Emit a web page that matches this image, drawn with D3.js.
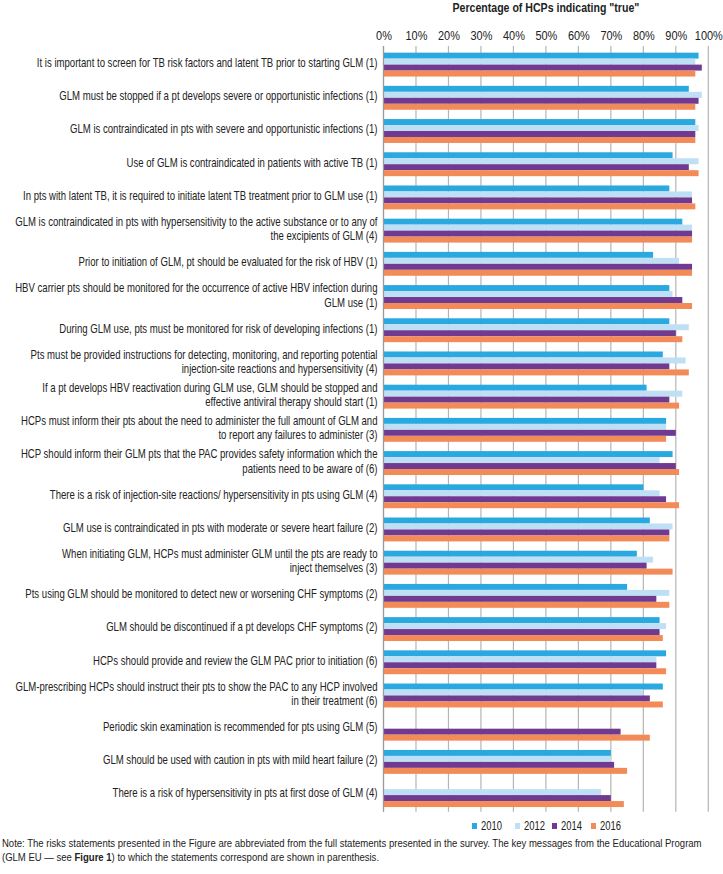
<!DOCTYPE html>
<html><head><meta charset="utf-8">
<script src="https://cdn.jsdelivr.net/npm/d3@7"></script>
<style>
body{margin:0;background:#fff;}
svg{display:block;}
text{font-family:"Liberation Sans",Arial,sans-serif;fill:#222;}
</style></head><body>
<svg id="c" width="723" height="874"></svg>
<script>
const categories = [
  ["It is important to screen for TB risk factors and latent TB prior to starting GLM (1)"],
  ["GLM must be stopped if a pt develops severe or opportunistic infections (1)"],
  ["GLM is contraindicated in pts with severe and opportunistic infections (1)"],
  ["Use of GLM is contraindicated in patients with active TB (1)"],
  ["In pts with latent TB, it is required to initiate latent TB treatment prior to GLM use (1)"],
  ["GLM is contraindicated in pts with hypersensitivity to the active substance or to any of","the excipients of GLM (4)"],
  ["Prior to initiation of GLM, pt should be evaluated for the risk of HBV (1)"],
  ["HBV carrier pts should be monitored for the occurrence of active HBV infection during","GLM use (1)"],
  ["During GLM use, pts must be monitored for risk of developing infections (1)"],
  ["Pts must be provided instructions for detecting, monitoring, and reporting potential","injection-site reactions and hypersensitivity (4)"],
  ["If a pt develops HBV reactivation during GLM use, GLM should be stopped and","effective antiviral therapy should start (1)"],
  ["HCPs must inform their pts about the need to administer the full amount of GLM and","to report any failures to administer (3)"],
  ["HCP should inform their GLM pts that the PAC provides safety information which the","patients need to be aware of (6)"],
  ["There is a risk of injection-site reactions/ hypersensitivity in pts using GLM (4)"],
  ["GLM use is contraindicated in pts with moderate or severe heart failure (2)"],
  ["When initiating GLM, HCPs must administer GLM until the pts are ready to","inject themselves (3)"],
  ["Pts using GLM should be monitored to detect new or worsening CHF symptoms (2)"],
  ["GLM should be discontinued if a pt develops CHF symptoms (2)"],
  ["HCPs should provide and review the GLM PAC prior to initiation (6)"],
  ["GLM-prescribing HCPs should instruct their pts to show the PAC to any HCP involved","in their treatment (6)"],
  ["Periodic skin examination is recommended for pts using GLM (5)"],
  ["GLM should be used with caution in pts with mild heart failure (2)"],
  ["There is a risk of hypersensitivity in pts at first dose of GLM (4)"]
];
const series = ["2010","2012","2014","2016"];
const v2010 = [97,94,96,89,88,92,83,88,88,86,81,87,89,80,82,78,75,85,87,86,null,70,null];
const v2012 = [96,98,97,97,95,95,91,89,94,93,92,87,85,85,89,83,88,87,84,80,null,70,67];
const v2014 = [98,97,96,94,95,95,95,92,90,88,88,90,90,87,88,81,84,85,84,82,73,71,70];
const v2016 = [96,96,96,97,96,95,95,95,92,94,91,87,91,91,88,89,88,86,87,86,82,75,74];
const xTicks = [0,10,20,30,40,50,60,70,80,90,100];
const colors = ["#2aa9e0","#bfdff5","#703a91","#f38b59"];
const title = 'Percentage of HCPs indicating "true"';

(function(){
const values = [v2010, v2012, v2014, v2016];
const svg = d3.select("#c");
const pL = 383.5, pR = 708.3, pT = 48, pB = 811.7;

// horizontally condense a text element about anchor x by factor f
function squeeze(sel, ax, f){ sel.attr("transform",`translate(${ax},0) scale(${f},1) translate(${-ax},0)`); }

const x = d3.scaleLinear().domain([0,100]).range([pL,pR]);
const y = d3.scaleBand().domain(d3.range(categories.length)).range([pT,pB]).paddingInner(0.28).paddingOuter(0.14);
const ys = d3.scaleBand().domain(series).range([0,y.bandwidth()]);

svg.append("g").selectAll("line").data(xTicks).join("line")
  .attr("x1",d=>x(d)).attr("x2",d=>x(d)).attr("y1",pT-2).attr("y2",pB)
  .attr("stroke","#b5b5b5").attr("stroke-width",1.2);

const axis = d3.axisTop(x).tickValues(xTicks).tickFormat(d=>d+"%").tickSize(0).tickPadding(0);
const ax = svg.append("g").attr("transform",`translate(0,${pT-8})`).call(axis);
ax.select(".domain").remove();
const tt = ax.selectAll("text").attr("font-size",13).attr("fill","#222").style("font-family",'"Liberation Sans",Arial,sans-serif');
const wTick = tt.filter(d=>d===100).node().getComputedTextLength();
const fTick = 28/wTick;
tt.attr("transform",`scale(${fTick},1)`);

series.forEach((s,si)=>{
  svg.append("g").selectAll("rect").data(values[si].map((v,i)=>({v,i})).filter(d=>d.v!=null)).join("rect")
    .attr("x",x(0)).attr("y",d=>y(d.i)+ys(s))
    .attr("width",d=>x(d.v)-x(0)).attr("height",ys.bandwidth())
    .attr("fill",colors[si]);
});

svg.append("line").attr("x1",x(0)).attr("x2",x(0)).attr("y1",pT-2).attr("y2",pB)
  .attr("stroke","#9a9a9a").attr("stroke-width",1.2);

const lab = svg.append("g");
const labX = pL-6;
const texts = [];
categories.forEach((lines,i)=>{
  const cy = y(i)+y.bandwidth()/2 - 2;
  const lh = 14.5;
  const t = lab.append("text").attr("text-anchor","end").attr("font-size",12.5);
  lines.forEach((ln,j)=>{
    t.append("tspan").attr("x",labX).attr("y",cy + (j-(lines.length-1)/2)*lh).attr("dy","0.35em").text(ln);
  });
  texts.push(t);
});
const fLab = 341/texts[0].node().getComputedTextLength();
texts.forEach(t=>squeeze(t,labX,fLab));

const cx = (pL+pR)/2;
const tl = svg.append("text").attr("x",cx).attr("y",12).attr("text-anchor","middle")
  .attr("font-size",13).attr("font-weight","bold").text(title);
squeeze(tl, cx, 187/tl.node().getComputedTextLength());

const lg = svg.append("g");
const lx = [472,515,552,591];
series.forEach((s,i)=>{
  lg.append("rect").attr("x",lx[i]).attr("y",823).attr("width",5).attr("height",6).attr("fill",colors[i]);
  const lt = lg.append("text").attr("x",lx[i]+9).attr("y",826).attr("dy","0.35em").attr("font-size",12.5).text(s);
  squeeze(lt, lx[i]+9, 21/lt.node().getComputedTextLength());
});

const note = svg.append("text").attr("font-size",11.5);
const n1 = note.append("tspan").attr("x",2).attr("y",847).text("Note: The risks statements presented in the Figure are abbreviated from the full statements presented in the survey. The key messages from the Educational Program");
const l2 = note.append("tspan").attr("x",2).attr("y",861);
l2.append("tspan").text("(GLM EU \u2014 see ");
l2.append("tspan").attr("font-weight","bold").text("Figure 1");
l2.append("tspan").text(") to which the statements correspond are shown in parenthesis.");
squeeze(note, 2, 701/n1.node().getComputedTextLength());
})();
</script></body></html>
